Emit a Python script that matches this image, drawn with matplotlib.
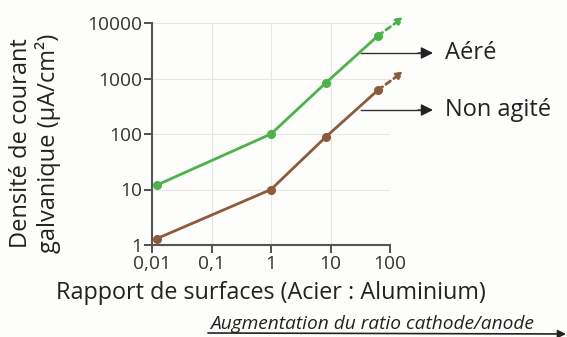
import matplotlib.pyplot as plt

plt.rcParams['font.family'] = ['Open Sans', 'DejaVu Sans']

# Data
ratio = [0.012, 1, 8.3, 63]
aere = [12, 100, 830, 5900]
non_agite = [1.3, 10, 88, 620]
# dashed extension beyond the last point
ratio_ext = [63, 170]
aere_ext = [5900, 12800]
non_agite_ext = [620, 1350]

xticks = [0.01, 0.1, 1, 10, 100]
xlabels = ['0,01', '0,1', '1', '10', '100']
yticks = [1, 10, 100, 1000, 10000]
ylabels = ['1', '10', '100', '1000', '10000']

green = '#4cb24a'
brown = '#8d5a3a'

fig = plt.figure(figsize=(5.67, 3.37), dpi=100)
fig.patch.set_facecolor('#fdfdfb')
ax = fig.add_axes([152/567, 1 - 245/337, 238/567, 222/337])
ax.set_facecolor('#fdfdfb')

ax.set_xscale('log')
ax.set_yscale('log')
ax.set_xlim(0.01, 100)
ax.set_ylim(1, 10000)

ax.plot(ratio, aere, color=green, lw=2, marker='o', ms=5.5, clip_on=False, zorder=3)
ax.plot(ratio, non_agite, color=brown, lw=2, marker='o', ms=5.5, clip_on=False, zorder=3)

for ys, c in [(aere_ext, green), (non_agite_ext, brown)]:
    ax.annotate('', xy=(ratio_ext[1], ys[1]), xytext=(ratio_ext[0], ys[0]),
                arrowprops=dict(arrowstyle='-|>', color=c, lw=2, ls=(0, (2, 1.5)),
                                mutation_scale=10, shrinkA=0, shrinkB=0),
                annotation_clip=False)

ax.set_xticks(xticks)
ax.set_xticklabels(xlabels)
ax.set_yticks(yticks)
ax.set_yticklabels(ylabels)
ax.minorticks_off()
ax.tick_params(labelsize=13.8, colors='#333333', length=6, width=1.2, pad=1)
ax.grid(True, color='#e6e6e6', lw=0.8)
for s in ['top', 'right']:
    ax.spines[s].set_visible(False)
for s in ['left', 'bottom']:
    ax.spines[s].set_color('#555555')
    ax.spines[s].set_linewidth(1.5)

ax.set_xlabel('Rapport de surfaces (Acier : Aluminium)', fontsize=16.8, color='#222222', labelpad=6)
fig.text(35/567, 1 - 143/337, 'Densité de courant\ngalvanique (µA/cm²)', rotation=90,
         fontsize=17, color='#222222', ha='center', va='center', linespacing=1.1)

# labels with arrows
for y, label in [(53, 'Aéré'), (110, 'Non agité')]:
    fy = 1 - y/337
    fig.add_artist(plt.Line2D([361/567, 420/567], [fy, fy], color='#333333', lw=1))
    ax.annotate('', xy=(433/567, fy), xytext=(418/567, fy), xycoords='figure fraction',
                arrowprops=dict(arrowstyle='-|>', color='#222222', lw=1, mutation_scale=18,
                                shrinkA=0, shrinkB=0))
    fig.text(445/567, fy, label, fontsize=17, color='#222222', va='center', ha='left')

fig.text(210/567, 1 - 324/337, 'Augmentation du ratio cathode/anode', fontsize=13.8,
         style='italic', color='#222222', va='center', ha='left')
ax.annotate('', xy=(566/567, 1 - 334/337), xytext=(208/567, 1 - 333/337),
            xycoords='figure fraction',
            arrowprops=dict(arrowstyle='-|>', color='#222222', lw=1.2, mutation_scale=12,
                            shrinkA=0, shrinkB=0))

fig.savefig('out.png', dpi=100, facecolor=fig.get_facecolor())
